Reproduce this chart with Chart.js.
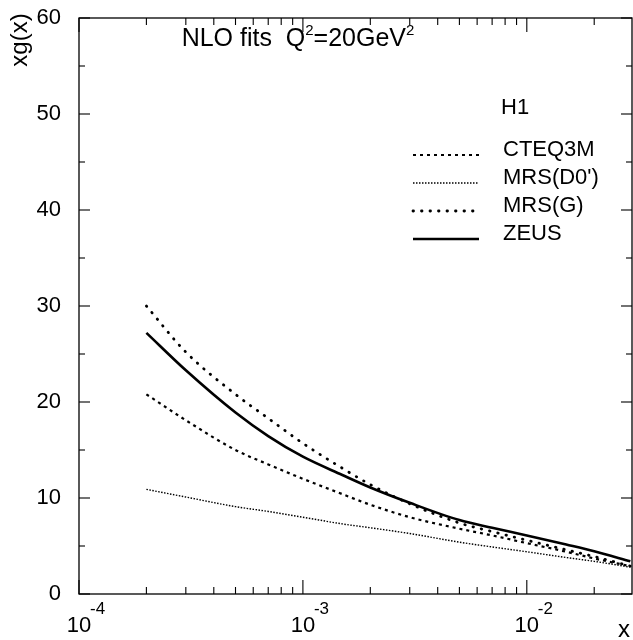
<!DOCTYPE html>
<html><head><meta charset="utf-8">
<script src="https://cdn.jsdelivr.net/npm/chart.js@4/dist/chart.umd.min.js"></script>
<style>html,body{margin:0;padding:0;background:#fff;overflow:hidden}</style>
</head><body>
<canvas id="c" width="633" height="640"></canvas>
<script>
// ---- data ----
const xValues = [2e-4, 3e-4, 5e-4, 7e-4, 1e-3, 1.5e-3, 2e-3, 3e-3, 5e-3, 7e-3, 1e-2, 1.5e-2, 2e-2, 2.9e-2];
const cteq3m  = [20.8, 18.1, 15.0, 13.5, 12.0, 10.4, 9.3, 8.0, 6.8, 6.1, 5.3, 4.4, 3.7, 2.9];
const mrsD0   = [10.9, 10.1, 9.1, 8.6, 8.0, 7.3, 6.9, 6.3, 5.4, 4.9, 4.4, 3.8, 3.4, 2.8];
const mrsG    = [30.0, 25.2, 20.8, 18.3, 15.7, 13.1, 11.4, 9.4, 7.4, 6.5, 5.6, 4.6, 3.9, 2.9];
const zeus    = [27.2, 23.3, 18.9, 16.45, 14.3, 12.4, 11.1, 9.5, 7.7, 6.9, 6.1, 5.15, 4.45, 3.4];
const seriesNames = ['CTEQ3M', "MRS(D0')", 'MRS(G)', 'ZEUS'];
const yTickValues = [0, 10, 20, 30, 40, 50, 60];
const xTickValues = [1e-4, 1e-3, 1e-2];
const xTickExponents = ['-4', '-3', '-2'];
const titleParts = [['NLO fits  Q', 0], ['2', 1], ['=20GeV', 0], ['2', 1]];
const groupLabel = 'H1';
const yTitle = 'xg(x)';
const xTitle = 'x';

const FONT = '"Liberation Sans", Arial, sans-serif';
const styles = [
  {borderWidth: 2.2, borderDash: [3, 4], borderCapStyle: 'butt'},
  {borderWidth: 1.4, borderDash: [1.5, 1.5], borderCapStyle: 'butt'},
  {borderWidth: 2.8, borderDash: [0.5, 8], borderCapStyle: 'round'},
  {borderWidth: 2.6, borderDash: [], borderCapStyle: 'butt'}
];
const allSeries = [cteq3m, mrsD0, mrsG, zeus];

const datasets = allSeries.map((s, i) => Object.assign({
  label: seriesNames[i],
  data: xValues.map((x, j) => ({x: x, y: s[j]})),
  borderColor: '#000',
  pointRadius: 0,
  fill: false,
  cubicInterpolationMode: 'monotone'
}, styles[i]));

function line(ctx, x1, y1, x2, y2) { ctx.beginPath(); ctx.moveTo(x1, y1); ctx.lineTo(x2, y2); ctx.stroke(); }

const deco = {
  id: 'deco',
  afterDraw(chart) {
    const ctx = chart.ctx, a = chart.chartArea, xs = chart.scales.x, ys = chart.scales.y;
    ctx.save();
    ctx.strokeStyle = '#000'; ctx.fillStyle = '#000';
    ctx.lineWidth = 1.3;
    ctx.strokeRect(a.left, a.top, a.right - a.left, a.bottom - a.top);
    ctx.lineWidth = 1.1;
    for (let v = ys.min; v <= ys.max; v += 5) {
      const py = ys.getPixelForValue(v), L = v % 10 === 0 ? 11 : 6;
      line(ctx, a.left, py, a.left + L, py);
      line(ctx, a.right, py, a.right - L, py);
    }
    for (let e = -4; e <= -1; e++) for (let m = 1; m <= 9; m++) {
      const v = m * Math.pow(10, e);
      if (v < xs.min * 0.999 || v > xs.max) continue;
      const px = xs.getPixelForValue(v), L = m === 1 ? 14 : 7;
      line(ctx, px, a.bottom, px, a.bottom - L);
      line(ctx, px, a.top, px, a.top + L);
    }
    // x tick labels 10^n
    ctx.textBaseline = 'alphabetic';
    xTickValues.forEach((v, i) => {
      const px = xs.getPixelForValue(v);
      ctx.font = '22px ' + FONT; ctx.textAlign = 'center';
      ctx.fillText('10', px, 632);
      ctx.font = '17px ' + FONT; ctx.textAlign = 'left';
      ctx.fillText(xTickExponents[i], px + 11, 614);
    });
    // axis titles
    ctx.font = '24px ' + FONT; ctx.textAlign = 'center';
    ctx.fillText(xTitle, 624, 637);
    ctx.save();
    ctx.translate(20, 40); ctx.rotate(-Math.PI / 2);
    ctx.font = '24px ' + FONT; ctx.textBaseline = 'middle';
    ctx.fillText(yTitle, 0, 0);
    ctx.restore();
    // title with superscripts
    const widths = titleParts.map(p => { ctx.font = (p[1] ? '15px ' : '25px ') + FONT; return ctx.measureText(p[0]).width; });
    const total = widths.reduce((s, w) => s + w, 0);
    let tx = 298 - total / 2;
    ctx.textAlign = 'left';
    titleParts.forEach((p, i) => {
      ctx.font = (p[1] ? '15px ' : '25px ') + FONT;
      ctx.fillText(p[0], tx, p[1] ? 35 : 46);
      tx += widths[i];
    });
    // legend
    ctx.font = '22px ' + FONT; ctx.textAlign = 'left';
    ctx.fillText(groupLabel, 501, 114);
    const base = [156, 184, 212, 240];
    seriesNames.forEach((n, i) => {
      ctx.fillText(n, 503, base[i]);
      ctx.save();
      ctx.lineWidth = styles[i].borderWidth;
      ctx.setLineDash(styles[i].borderDash);
      ctx.lineCap = styles[i].borderCapStyle;
      line(ctx, 413, base[i] - 1, 479, base[i] - 1);
      ctx.restore();
    });
    ctx.restore();
  }
};

new Chart(document.getElementById('c'), {
  type: 'line',
  data: {datasets: datasets},
  options: {
    responsive: false, animation: false, devicePixelRatio: 1,
    layout: {padding: {top: 18, right: 1, bottom: 0, left: 0}},
    plugins: {legend: {display: false}, tooltip: {enabled: false}},
    scales: {
      x: {
        type: 'logarithmic', min: 1e-4, max: 0.0295,
        grid: {display: false}, border: {display: false},
        ticks: {display: false},
        afterFit(s) { s.height = 46; s.paddingLeft = 0; s.paddingRight = 0; }
      },
      y: {
        min: 0, max: 60,
        grid: {display: false, drawTicks: false}, border: {display: false},
        afterBuildTicks(s) { s.ticks = yTickValues.map(v => ({value: v})); },
        ticks: {color: '#000', padding: 18, font: {family: FONT, size: 22}},
        afterFit(s) { s.width = 79; s.paddingTop = 0; s.paddingBottom = 0; }
      }
    }
  },
  plugins: [deco]
});
</script>
</body></html>
